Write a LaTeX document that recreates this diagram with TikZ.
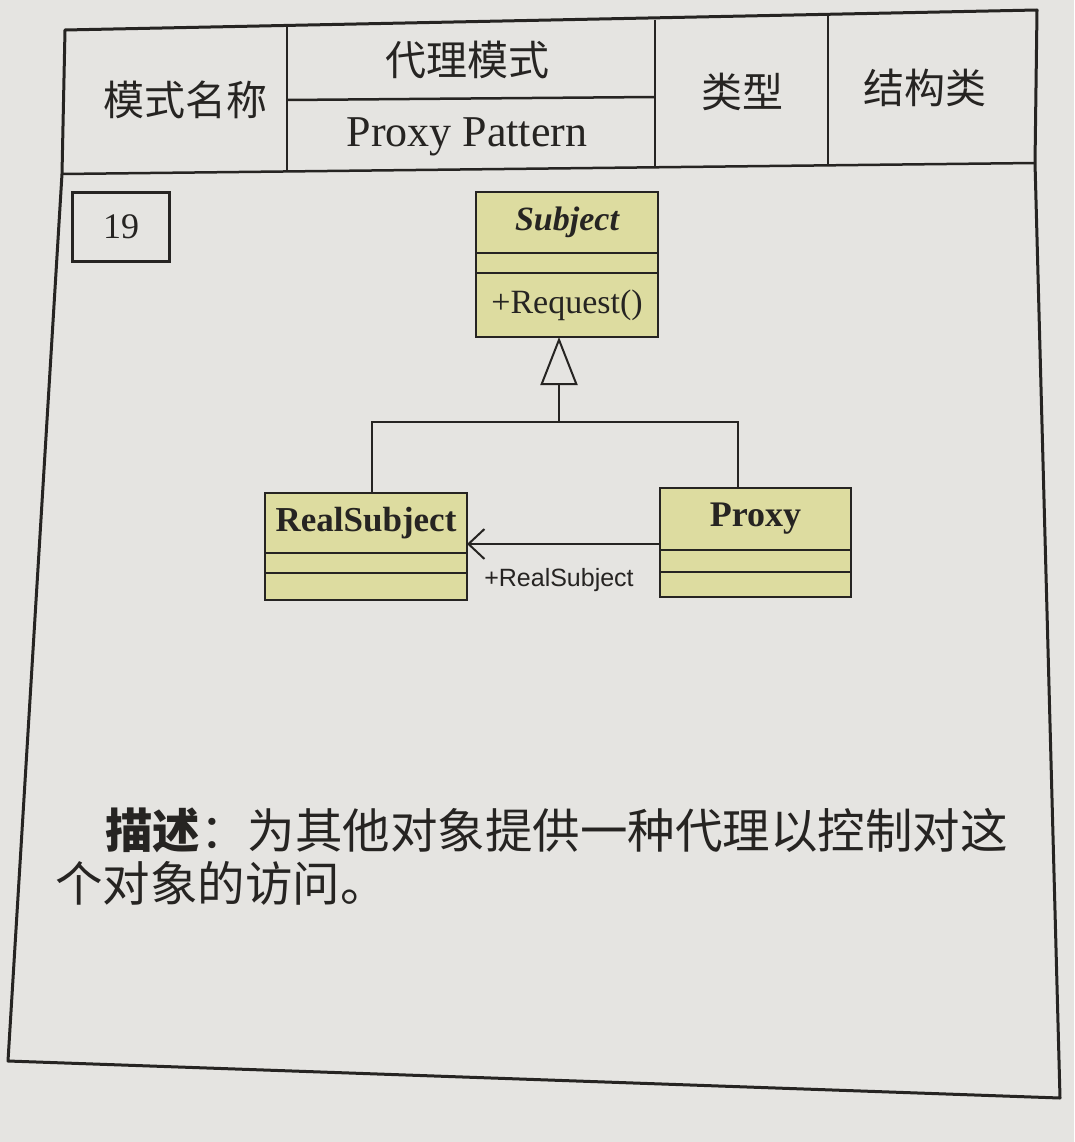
\documentclass[tikz,border=0pt]{standalone}
\usepackage{fontspec}
\setmainfont{Liberation Serif}
\setsansfont{Liberation Sans}
\newfontfamily\cjk{Noto Sans CJK SC}
\usetikzlibrary{positioning,arrows.meta}

\definecolor{paper}{RGB}{229,228,225}
\definecolor{ink}{RGB}{38,36,34}
\definecolor{umlfill}{RGB}{221,220,160}

\tikzset{
  frame/.style={draw=ink,line width=3pt,line join=round},
  rule/.style={draw=ink,line width=2.5pt},
  cell/.style={inner sep=0pt,text=ink,font=\cjk\fontsize{41}{41}\selectfont},
  classpart/.style={draw=ink,fill=umlfill,line width=2pt,inner sep=0pt,outer sep=0pt,
    text=ink,minimum width=#1},
  umlline/.style={draw=ink,line width=2pt},
  inherit/.style={umlline,-{Triangle[open,length=48pt,width=37pt,line width=2pt]}},
  assoc/.style={umlline,-{Straight Barb[length=16pt,width=30pt,line width=2pt]}},
  desc/.style={anchor=west,inner sep=0pt,text=ink,font=\cjk\fontsize{47.5}{47.5}\selectfont}
}

\begin{document}
\begin{tikzpicture}[x=1pt,y=-1pt]
        \fill[paper] (0,0) rectangle (1074,1142);
        \useasboundingbox (0,0) rectangle (1074,1142);

        % Card outline
        \draw[frame] (65,30) -- (1037,10) -- (1035,163) -- (1060,1098)
            -- (8,1061) -- (62,174) -- cycle;

        % Header table
        \draw[rule] (62,174) -- (1035,163);
        \draw[rule] (287,27) -- (287,172);
        \draw[rule] (655,20) -- (655,168);
        \draw[rule] (828,15) -- (828,165);
        \draw[rule] (287,100) -- (655,97);
        \node[cell] (namelabel) at (185,100) {模式名称};
        \node[cell] (namecn) at (467,60) {代理模式};
        \node[cell,font=\fontsize{44}{44}\selectfont] (nameen) at (467,137) {Proxy Pattern};
        \node[cell] (typelabel) at (742,92) {类型};
        \node[cell] (typevalue) at (925,88) {结构类};

        % Card number
        \node[draw=ink,line width=2.5pt,minimum width=97pt,minimum height=69pt,
            inner sep=0pt,font=\fontsize{36}{36}\selectfont,text=ink] (cardno) at (121,227) {19};

        % Subject class
        \node[classpart=182pt,minimum height=61pt,font=\bfseries\itshape\fontsize{34}{34}\selectfont]
            (subname) at (567,222.5) {Subject};
        \node[classpart=182pt,minimum height=20pt,below=0pt of subname] (subattr) {};
        \node[classpart=182pt,minimum height=64pt,below=0pt of subattr,
            font=\fontsize{34}{34}\selectfont] (subop) {+Request()};

        % RealSubject class
        \node[classpart=202pt,minimum height=60pt,font=\bfseries\fontsize{35}{35}\selectfont]
            (realname) at (366,523) {RealSubject};
        \node[classpart=202pt,minimum height=20pt,below=0pt of realname] (realattr) {};
        \node[classpart=202pt,minimum height=27pt,below=0pt of realattr] (realop) {};

        % Proxy class
        \node[classpart=191pt,minimum height=62pt,font=\bfseries\fontsize{36}{36}\selectfont]
            (proxyname) at (755.5,519) {Proxy};
        \node[classpart=191pt,minimum height=22pt,below=0pt of proxyname] (proxyattr) {};
        \node[classpart=191pt,minimum height=25pt,below=0pt of proxyattr] (proxyop) {};

        % Generalisation
        \coordinate (join) at (559,422);
        \draw[umlline] ([xshift=6pt]realname.north) |- (join) -| ([xshift=-17.5pt]proxyname.north);
        \draw[inherit] (join) -- ([xshift=-8pt]subop.south);

        % Association
        \draw[assoc] ([yshift=-25pt]proxyname.west) coordinate (assocstart)
            -- (realname.east |- assocstart);
        \node[inner sep=0pt,text=ink,font=\sffamily\fontsize{25}{25}\selectfont]
            (assoclabel) at (559,580) {+RealSubject};

        % Description
        \node[desc] (desc1) at (105,830) {\textbf{描述}：为其他对象提供一种代理以控制对这};
        \node[desc] (desc2) at (55,883) {个对象的访问。};
    \end{tikzpicture}
\end{document}
